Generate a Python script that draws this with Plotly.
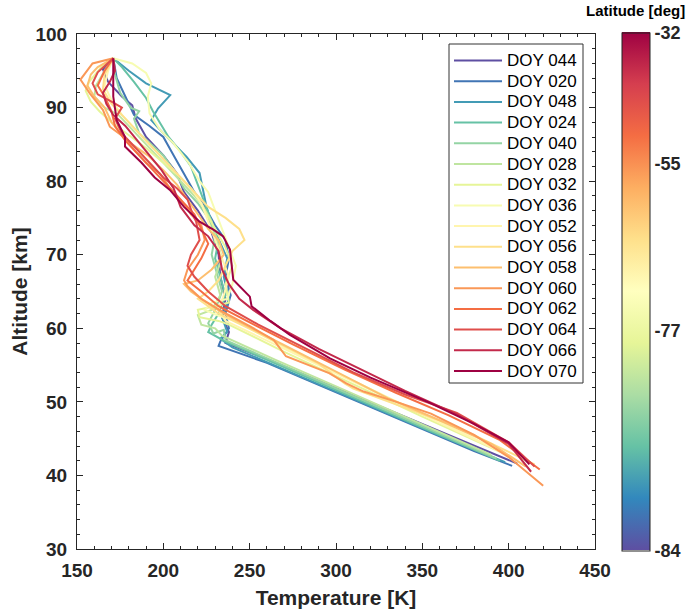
import plotly.graph_objects as go
import plotly.colors as pc

# ---------------- data ----------------
doy_labels = ["DOY 044", "DOY 020", "DOY 048", "DOY 024", "DOY 040", "DOY 028",
              "DOY 032", "DOY 036", "DOY 052", "DOY 056", "DOY 058", "DOY 060",
              "DOY 062", "DOY 064", "DOY 066", "DOY 070"]
latitudes = [-84, -83, -81, -80, -79, -78, -77, -76, -70, -64, -58, -55, -50, -45, -39, -32]

t_044 = [171, 165, 168, 176, 182, 184, 190, 200, 208, 212, 220, 228, 232, 233, 236, 234, 238, 236, 260, 300, 340, 380, 405]
z_044 = [96.7, 95.2, 93.5, 91.5, 90.3, 88.5, 86, 83.5, 81, 78.5, 76, 73, 70, 67, 64, 61.5, 59.5, 58, 55.8, 51.9, 48, 44, 41.6]

t_020 = [171, 173, 178, 183, 192, 200, 206, 212, 218, 224, 230, 236, 238, 236, 239, 236, 238, 233, 232, 260, 300, 340, 380, 402]
z_020 = [96.7, 94, 91.5, 89, 87.5, 86, 83.5, 81, 78.5, 76.5, 74, 72, 69.5, 67, 64.5, 62, 60, 58.2, 57.6, 55.3, 51.3, 47.3, 43.3, 41.3]

t_048 = [171, 180, 190, 200, 204, 197, 193, 198, 205.8, 213.5, 221, 223, 225, 228, 232, 237, 235, 238, 234, 237, 233, 240, 280, 320, 360, 398]
z_048 = [96.7, 95, 93.3, 92.2, 91.7, 89.9, 88.3, 87, 85.1, 83.3, 81.1, 78.8, 76.5, 74.2, 72, 69.5, 67, 64, 61.5, 59.5, 58.6, 57.4, 53.4, 49.4, 45.4, 41.8]

t_024 = [171, 176, 183, 190, 194, 198, 203, 210, 216, 220, 224, 228, 232, 230, 233, 236, 232, 228, 226, 232, 236, 270, 310, 350, 395]
z_024 = [96.7, 95.5, 93.5, 91.3, 89.5, 88, 86, 84, 82, 79.5, 77, 74.5, 72, 69.5, 67, 64.5, 62, 60.5, 59.5, 58.7, 58.2, 54.7, 50.6, 46.5, 42]

t_040 = [171, 172, 175, 181, 186, 183, 186, 193, 200, 206, 212, 220, 226, 230, 228, 231, 234, 230, 226, 229, 235, 236, 270, 310, 350, 393]
z_040 = [96.7, 94.5, 92, 90, 89.5, 88.5, 86.5, 85, 83.5, 81.5, 79, 77, 75, 72.5, 70, 67.5, 65, 62.5, 60.7, 59.3, 59.8, 58.4, 54.9, 50.8, 46.7, 42.3]

t_028 = [171, 166, 161, 160, 166, 174, 182, 190, 198, 206, 214, 222, 228, 231, 234, 230, 233, 228, 220, 222, 230, 234, 265, 305, 345, 390]
z_028 = [96.7, 95, 93, 91.5, 90, 89, 87, 85, 83, 81, 79, 77, 74.5, 72, 69.5, 67, 64.5, 62.5, 61.8, 60.5, 60, 59, 55.7, 51.6, 47.5, 42.8]

t_032 = [171, 164, 157, 155, 158, 163, 170, 180, 190, 200, 210, 218, 224, 230, 236, 240, 236, 238, 230, 220, 221, 232, 238, 270, 310, 350, 395]
z_032 = [96.7, 95.5, 93.5, 92.3, 90.8, 89.5, 88, 86.3, 84.5, 82.5, 80.5, 78.5, 76, 73.5, 71, 68.5, 66, 63.5, 63, 62.5, 61.5, 61, 60.5, 56.8, 52.4, 48, 43.2]

t_036 = [171, 182, 190, 193, 191, 192, 198, 206, 215, 221, 226, 230, 234, 238, 242, 240, 237, 228, 224, 232, 242, 275, 315, 355, 398]
z_036 = [96.7, 96, 94.7, 93.3, 91.5, 89.2, 87, 85.1, 82.4, 80, 78.5, 76, 73.5, 71, 68.5, 66, 64, 63.5, 62.5, 61.7, 61, 56.8, 52.3, 47.8, 43]

t_052 = [171, 168, 166, 170, 176, 184, 192, 200, 208, 216, 222, 226, 230, 234, 238, 235, 232, 236, 245, 280, 320, 360, 400]
z_052 = [96.7, 95, 93, 91, 89, 87, 85, 83, 81, 79, 77, 74.5, 72, 69.5, 67, 64.5, 62.5, 61, 60, 56, 51.6, 47.2, 42.7]

t_056 = [171, 166, 165, 170, 178, 186, 194, 202, 210, 218, 226, 236, 244, 247, 240, 236, 232, 226, 220, 232, 245, 265, 290, 305, 310, 340, 370, 400, 415]
z_056 = [96.7, 94.5, 92.5, 90.5, 88.5, 86.5, 84.5, 82.5, 80.5, 78.5, 76.5, 75, 73.5, 72, 70.5, 68.5, 66.5, 65, 64, 62, 60.5, 58.2, 55.2, 52.5, 51.8, 49.2, 46.6, 43.2, 41.5]

t_058 = [171, 162, 158, 156, 160, 166, 170, 175, 182, 191, 200, 208, 214, 220, 226, 232, 235, 228, 220, 212, 216, 225, 235, 255, 280, 305, 330, 360, 390, 410]
z_058 = [96.7, 95.5, 94.5, 93, 91.5, 90, 88, 86.5, 85, 83.5, 81.5, 79.5, 77.5, 75.5, 73.5, 72, 70, 68, 66.5, 66, 65, 63.5, 62, 59.5, 56.5, 53.5, 50.5, 47.5, 44.3, 41.2]

t_060 = [171, 159, 152, 157.5, 165, 169, 177, 184, 190, 198, 204, 210, 216, 222, 224, 220, 214, 212, 214, 222, 234, 250, 264, 271, 296, 306, 316, 335, 355, 380, 400, 420]
z_060 = [96.7, 96, 93.8, 91.9, 89.7, 87.4, 86, 84, 82.5, 81, 79, 77.5, 75.5, 74, 72, 70, 68, 66.5, 65.7, 64, 62.3, 60.3, 58.4, 56.2, 53.9, 52.5, 51.4, 50, 48.4, 45.5, 42.5, 38.6]

t_062 = [171, 166, 162, 166, 170, 172, 178, 186, 194, 202, 210, 218, 222, 226, 222, 218, 214, 222, 232, 250, 275, 305, 335, 365, 395, 418]
z_062 = [96.7, 95, 93, 91.5, 89.5, 87.5, 85.5, 83.5, 81.5, 79.5, 77.5, 75.5, 73.5, 71.5, 69.5, 68, 66.5, 65, 63, 60.8, 57.8, 54.4, 51.2, 48.2, 44.8, 40.8]

t_064 = [171, 162, 159, 162, 170, 176, 172, 176, 184, 192, 200, 208, 214, 217, 219, 221, 216, 214, 218, 226, 236, 255, 280, 310, 340, 370, 400, 415]
z_064 = [96.7, 94.8, 93.3, 91.8, 90.8, 90, 88.5, 86.5, 84.5, 82.5, 80.5, 79, 77.5, 75.5, 74.5, 72, 70, 68.5, 67, 65, 63, 60.5, 57.5, 54, 51, 48.5, 44.5, 41.2]

t_066 = [171, 172, 169, 165, 167, 171, 178, 185, 192, 199, 206, 210, 218, 226, 232, 234, 238, 244, 252, 268, 290, 315, 340, 370, 400, 413]
z_066 = [96.7, 95, 93.5, 92, 90.5, 89, 87.5, 85.5, 83.5, 81.5, 79, 76.5, 74, 72.5, 70.5, 68, 66, 64, 62.5, 60, 57.2, 54.3, 51.5, 48.3, 44.3, 40.5]

t_070 = [171, 171, 171, 173, 177.8, 177.8, 187.4, 195, 203.8, 212, 221, 229, 234.7, 238.6, 239.6, 240.5, 250.1, 251.1, 262, 273.3, 296.5, 320, 354, 380, 400, 412]
z_070 = [96.7, 93.5, 91.5, 88.3, 86, 84.7, 82.5, 80.5, 78.8, 76.5, 74.5, 73.4, 72.5, 70.7, 68.4, 66.6, 64.3, 63, 61, 59.1, 55.9, 53.3, 49.9, 47, 44.5, 41.5]

temps = [t_044, t_020, t_048, t_024, t_040, t_028, t_032, t_036,
         t_052, t_056, t_058, t_060, t_062, t_064, t_066, t_070]
alts = [z_044, z_020, z_048, z_024, z_040, z_028, z_032, z_036,
        z_052, z_056, z_058, z_060, z_062, z_064, z_066, z_070]

cbar_tick_labels = ["-84", "-77", "-55", "-32"]
cbar_tick_frac = [0.0, 0.425, 0.747, 1.0]

x_ticks = [150, 200, 250, 300, 350, 400, 450]
y_ticks = [30, 40, 50, 60, 70, 80, 90, 100]

# ---------------- figure ----------------
W, H = 692, 609
ML, MR, MT, MB = 77, 97, 34, 60
PW, PH = W - ML - MR, H - MT - MB

def px(xp):
    return (xp - ML) / PW

def py(yp):
    return 1 - (yp - MT) / PH

cs = pc.make_colorscale(pc.diverging.Spectral[::-1])
n = len(doy_labels)
fracs = [i / (n - 1) for i in range(n)]
colors = pc.sample_colorscale(cs, fracs)

FONT = "Liberation Sans, Arial, Helvetica, sans-serif"
DARK = "#262626"

fig = go.Figure()
for lab, t, z, c in zip(doy_labels, temps, alts, colors):
    fig.add_trace(go.Scatter(x=t, y=z, mode="lines", name=lab,
                             line=dict(color=c, width=2), showlegend=False))

# colorbar via dummy trace
fig.add_trace(go.Scatter(
    x=[None], y=[None], mode="markers", showlegend=False, hoverinfo="skip",
    marker=dict(color=[0], colorscale=cs, cmin=0, cmax=1, showscale=True,
                colorbar=dict(
                    x=px(622), xanchor="left", xpad=0,
                    y=0.5, yanchor="middle", ypad=0,
                    len=518, lenmode="pixels",
                    thickness=28, thicknessmode="pixels",
                    outlinewidth=1, outlinecolor="#222",
                    tickvals=cbar_tick_frac, ticktext=cbar_tick_labels,
                    ticks="", ticklabelposition="outside",
                    tickfont=dict(family=FONT, size=18, color=DARK, weight="bold"),
                ))))

# manual legend
leg_left, leg_right, leg_top, leg_bot = 449, 583, 44, 383
fig.add_shape(type="rect", xref="paper", yref="paper",
              x0=px(leg_left), x1=px(leg_right), y0=py(leg_bot), y1=py(leg_top),
              line=dict(color="#333", width=1), fillcolor="white", layer="above")
for i, (lab, c) in enumerate(zip(doy_labels, colors)):
    yy = 60.5 + 20.7 * i
    fig.add_shape(type="line", xref="paper", yref="paper",
                  x0=px(454), x1=px(502), y0=py(yy), y1=py(yy),
                  line=dict(color=c, width=2), layer="above")
    fig.add_annotation(xref="paper", yref="paper", x=px(505), y=py(yy),
                       text=lab, showarrow=False, xanchor="left", yanchor="middle",
                       font=dict(family=FONT, size=17, color="black"))

fig.add_annotation(xref="paper", yref="paper", x=px(635), y=py(11),
                   text="Latitude [deg]", showarrow=False, xanchor="center",
                   yanchor="middle",
                   font=dict(family=FONT, size=15, color="black", weight="bold"))

axis_common = dict(showline=True, linecolor=DARK, linewidth=1, mirror="ticks",
                   ticks="inside", ticklen=6, tickcolor=DARK, showgrid=False,
                   zeroline=False, automargin=False,
                   tickfont=dict(family=FONT, size=19, color=DARK, weight="bold"))

fig.update_xaxes(range=[150, 450], tickvals=x_ticks, ticklabelstandoff=4,
                 minor=dict(dtick=10, ticks="inside", ticklen=3, tickcolor=DARK),
                 title=dict(text="Temperature [K]", standoff=14,
                            font=dict(family=FONT, size=21, color=DARK, weight="bold")),
                 **axis_common)
fig.update_yaxes(range=[30, 100], tickvals=y_ticks, ticklabelstandoff=5,
                 minor=dict(dtick=2, ticks="inside", ticklen=3, tickcolor=DARK),
                 title=dict(text="Altitude [km]", standoff=2,
                            font=dict(family=FONT, size=21, color=DARK, weight="bold")),
                 **axis_common)

fig.update_layout(width=W, height=H, autosize=False,
                  margin=dict(l=ML, r=MR, t=MT, b=MB, pad=0),
                  plot_bgcolor="white", paper_bgcolor="white",
                  font=dict(family=FONT))

fig.write_html("out.html")
